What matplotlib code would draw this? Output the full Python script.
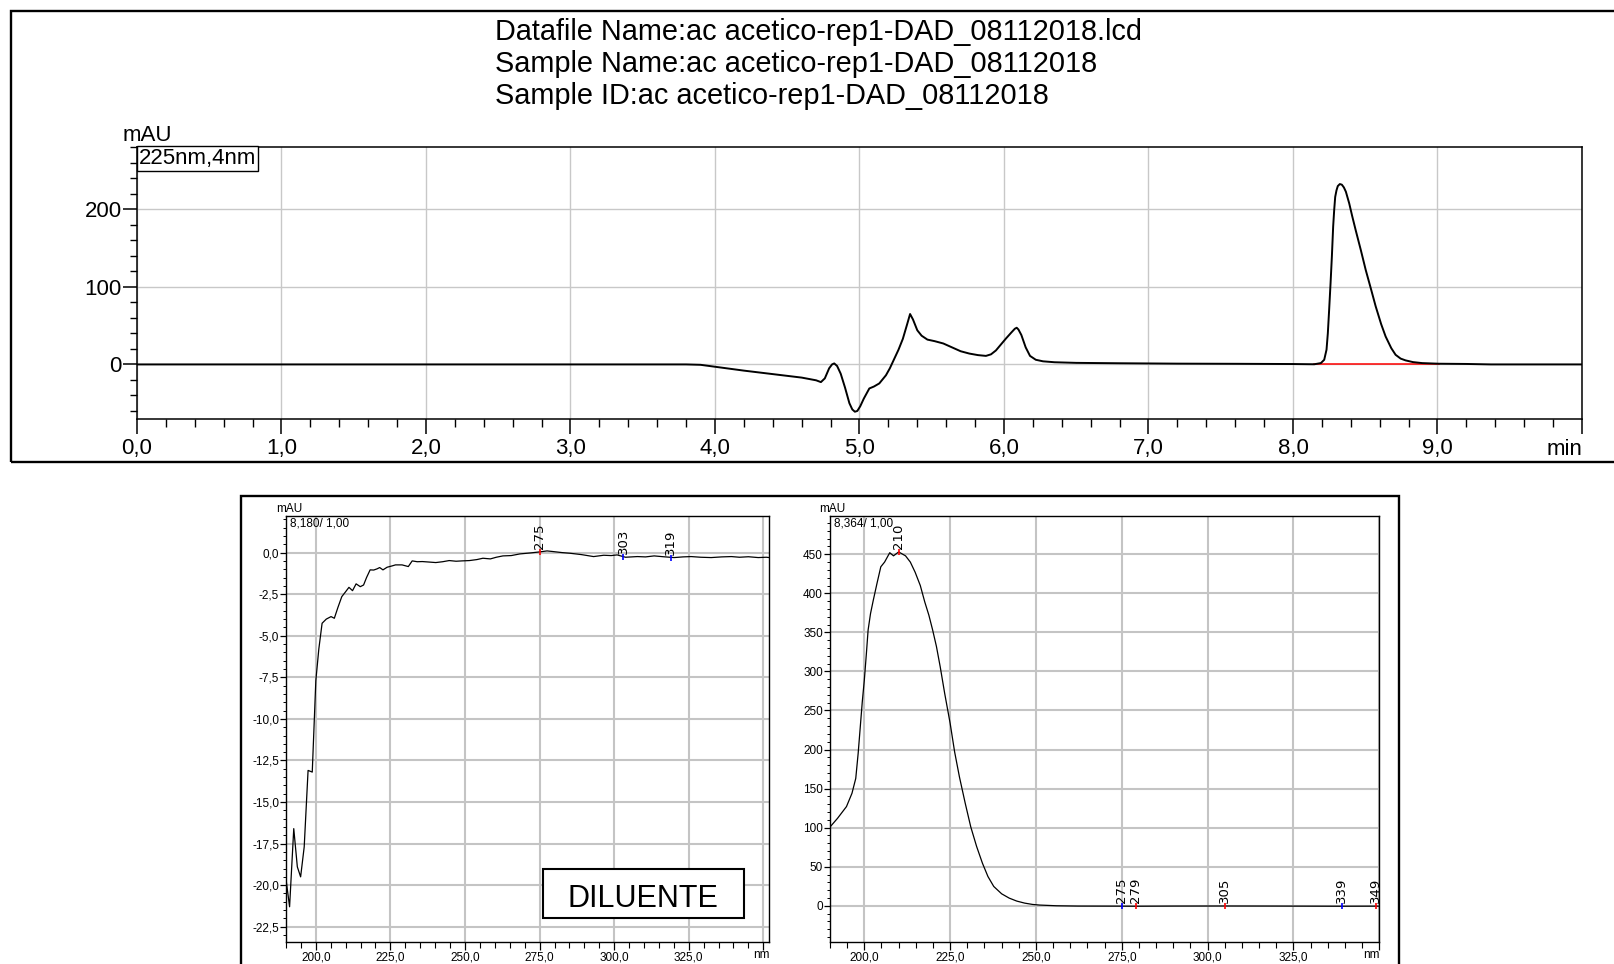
import matplotlib
matplotlib.use("Agg")
import matplotlib.pyplot as plt
from matplotlib.patches import Rectangle
from matplotlib.ticker import MultipleLocator, FuncFormatter

plt.rcParams['font.family'] = ['Liberation Sans', 'DejaVu Sans']
NARROW = ['Liberation Sans Narrow', 'Liberation Sans', 'DejaVu Sans']

# ---------------- data ----------------
header_lines = [
    "Datafile Name:ac acetico-rep1-DAD_08112018.lcd",
    "Sample Name:ac acetico-rep1-DAD_08112018",
    "Sample ID:ac acetico-rep1-DAD_08112018",
]
channel_label = "225nm,4nm"

# chromatogram (min, mAU)
time_min = [0.0, 3.0, 3.8, 3.9, 4.0, 4.2, 4.4, 4.6, 4.70, 4.733, 4.76, 4.79,
            4.81, 4.825, 4.845, 4.87, 4.90, 4.93, 4.95, 4.968, 4.985, 5.005,
            5.03, 5.068, 5.10, 5.137, 5.183, 5.21, 5.24, 5.27, 5.30, 5.33,
            5.35, 5.37, 5.40, 5.43, 5.47, 5.52, 5.58, 5.64, 5.70, 5.76, 5.82,
            5.875, 5.91, 5.944, 5.98, 6.014, 6.05, 6.075, 6.088, 6.10, 6.12,
            6.15, 6.18, 6.22, 6.27, 6.35, 6.5, 6.8, 7.2, 7.6, 8.0, 8.147,
            8.193, 8.216, 8.232, 8.241, 8.25, 8.26, 8.269, 8.278, 8.285,
            8.292, 8.301, 8.31, 8.324, 8.338, 8.352, 8.366, 8.389, 8.41,
            8.434, 8.47, 8.503, 8.54, 8.572, 8.61, 8.641, 8.68, 8.71, 8.745,
            8.779, 8.83, 8.894, 9.01, 9.2, 9.37, 10.0]
absorb_mau = [0.0, 0.0, 0.0, -0.5, -3.0, -8.0, -12.5, -17.0, -20.5, -22.8,
              -18.0, -5.0, 0.0, 1.3, -2.0, -12.0, -30.0, -50.0, -58.0, -61.0,
              -60.0, -54.0, -44.0, -31.0, -28.5, -24.5, -14.0, -5.0, 7.0,
              19.0, 33.0, 52.0, 65.0, 58.0, 44.0, 37.0, 32.0, 30.0, 27.0,
              22.0, 17.0, 14.0, 12.0, 11.0, 13.0, 18.0, 26.0, 33.5, 41.0,
              46.0, 47.3, 45.0, 38.0, 22.0, 11.0, 6.0, 4.0, 2.8, 2.0, 1.5,
              1.0, 0.8, 0.5, 0.2, 1.7, 6.0, 19.0, 40.0, 70.0, 105.0, 139.0,
              178.0, 199.0, 216.0, 224.5, 230.0, 232.6, 231.8, 228.3, 222.7,
              207.7, 191.0, 173.0, 147.0, 122.0, 97.0, 75.0, 52.0, 36.0,
              21.0, 12.4, 7.5, 5.2, 3.0, 1.7, 0.9, 0.6, 0.0, 0.0]
baseline_t = [8.147, 9.01]
baseline_y = [0.0, 0.0]

# spectrum of the diluent at 8,180 min
dil_nm = [189.9, 191.2, 192.6, 193.8, 194.9, 196.1, 197.4, 198.8, 200.0,
          201.0, 202.1, 203.5, 205.1, 206.2, 207.4, 208.7, 210.0, 211.1,
          212.3, 213.5, 214.9, 216.0, 217.0, 218.2, 219.4, 220.5, 221.4,
          222.5, 223.9, 225.6, 226.7, 228.9, 231.0, 232.3, 234.0, 235.7,
          238.0, 240.2, 242.5, 244.7, 247.0, 249.0, 251.5, 254.0, 256.0,
          258.5, 260.5, 262.7, 265.5, 268.4, 272.0, 275.0, 277.5, 279.6,
          282.5, 285.2, 289.0, 293.1, 296.5, 299.0, 301.0, 303.8, 307.8,
          310.5, 313.4, 316.5, 320.1, 323.0, 325.8, 329.0, 332.5, 336.0,
          339.3, 342.0, 345.0, 348.3, 351.0, 352.0]
dil_mau = [-19.5, -21.3, -16.6, -18.9, -19.5, -17.7, -13.1, -13.2, -7.7,
           -5.8, -4.25, -4.0, -3.85, -3.95, -3.3, -2.65, -2.35, -2.09, -2.29,
           -1.88, -2.05, -1.95, -1.5, -1.04, -1.05, -0.98, -0.9, -1.04, -0.88,
           -0.8, -0.74, -0.74, -0.84, -0.5, -0.55, -0.54, -0.57, -0.6, -0.55,
           -0.48, -0.52, -0.5, -0.48, -0.42, -0.34, -0.38, -0.28, -0.2, -0.18,
           -0.08, -0.02, 0.04, 0.1, 0.06, 0.0, -0.04, -0.12, -0.24, -0.16,
           -0.18, -0.14, -0.28, -0.24, -0.26, -0.2, -0.25, -0.3, -0.26,
           -0.24, -0.28, -0.3, -0.26, -0.24, -0.28, -0.25, -0.3, -0.28, -0.3]
dil_marks_nm = [275, 303, 319]
dil_marks_mau = [0.04, -0.28, -0.3]
dil_marks_col = ['red', 'blue', 'blue']

# spectrum of the main peak at 8,364 min
pk_nm = [189.7, 192.2, 194.8, 196.4, 197.5, 198.2, 198.9, 199.4, 200.0,
         200.6, 201.1, 201.8, 202.6, 203.7, 204.8, 205.9, 207.4, 208.5,
         210.0, 212.0, 213.4, 214.8, 216.3, 217.6, 218.8, 219.9, 221.0,
         222.1, 223.4, 225.0, 226.3, 227.7, 229.4, 231.0, 232.7, 234.4,
         236.0, 237.7, 240.0, 242.2, 244.4, 246.7, 249.0, 251.1, 256.0,
         262.3, 275.0, 279.0, 290.0, 305.0, 320.0, 339.0, 349.0, 350.0]
pk_mau = [99.3, 112.0, 127.0, 144.0, 163.0, 195.0, 233.5, 261.0, 289.0,
          323.0, 353.0, 374.0, 391.0, 413.0, 434.0, 440.0, 452.0, 448.0,
          453.0, 448.0, 440.0, 427.0, 410.0, 389.0, 372.0, 353.0, 332.0,
          306.0, 272.0, 233.5, 197.0, 165.0, 131.0, 101.0, 76.0, 54.5, 37.5,
          24.7, 15.3, 9.8, 6.0, 3.4, 1.7, 0.9, 0.0, -0.4, -0.5, -0.6, -0.4,
          -0.3, -0.4, -0.6, -0.5, -0.5]
pk_marks_nm = [210, 275, 279, 305, 339, 349]
pk_marks_mau = [453.0, -0.5, -0.6, -0.3, -0.6, -0.5]
pk_marks_col = ['red', 'blue', 'red', 'red', 'blue', 'red']

# ---------------- figure ----------------
W, H = 1615, 964
fig = plt.figure(figsize=(W / 100, H / 100), dpi=100)


def fx(px):
    return px / W


def fy(py):
    return 1 - py / H


def comma(fmt):
    return FuncFormatter(lambda v, p: (fmt % v).replace('.', ','))


grid_kw = dict(color='#c8c8c8', linewidth=1.0)

# outer frames
fig.patches.append(Rectangle((fx(11), fy(462)), fx(1640) - fx(11), fy(11) - fy(462),
                             transform=fig.transFigure, fill=False, lw=1.7,
                             edgecolor='black', clip_on=False))
fig.patches.append(Rectangle((fx(241), fy(990)), fx(1399) - fx(241), fy(496) - fy(990),
                             transform=fig.transFigure, fill=False, lw=1.7,
                             edgecolor='black', clip_on=False))

for i, line in enumerate(header_lines):
    fig.text(fx(495), fy(31.5 + 32 * i), line, fontsize=20.8, ha='left', va='center')

# ---- chromatogram ----
ax = fig.add_axes([fx(137), fy(418.7), fx(1582) - fx(137), fy(147.3) - fy(418.7)])
ax.plot(time_min, absorb_mau, color='black', lw=1.4, zorder=3)
ax.plot(baseline_t, baseline_y, color='red', lw=1.1, zorder=2)
ax.set_xlim(0, 10)
ax.set_ylim(-70, 280)
ax.xaxis.set_major_locator(MultipleLocator(1.0))
ax.xaxis.set_minor_locator(MultipleLocator(0.2))
ax.yaxis.set_major_locator(MultipleLocator(100))
ax.yaxis.set_minor_locator(MultipleLocator(20))
ax.xaxis.set_major_formatter(FuncFormatter(
    lambda v, p: '' if v > 9.5 else ('%.1f' % v).replace('.', ',')))
ax.yaxis.set_major_formatter(FuncFormatter(lambda v, p: '%d' % v))
ax.grid(True, which='major', **grid_kw)
ax.set_axisbelow(True)
for s in ax.spines.values():
    s.set_linewidth(1.1)
ax.tick_params(axis='x', which='major', direction='out', length=11, width=1.1,
               labelsize=16, pad=3)
ax.tick_params(axis='x', which='minor', direction='out', length=6, width=1.0)
ax.tick_params(axis='y', which='major', direction='out', length=10, width=1.1,
               labelsize=16, pad=1)
ax.tick_params(axis='y', which='minor', direction='out', length=5, width=1.0)
ax.text(-0.010, 1.005, 'mAU', transform=ax.transAxes, fontsize=16,
        ha='left', va='bottom')
ax.text(0.0015, 0.997, channel_label, transform=ax.transAxes, fontsize=16,
        ha='left', va='top',
        bbox=dict(boxstyle='square,pad=0.08', fc='white', ec='black', lw=1.0))
ax.text(1.0, -0.075, 'min', transform=ax.transAxes, fontsize=16,
        ha='right', va='top')


# ---- spectra ----
def spectrum_axes(rect, nm, mau, xlim, ylim, ymaj, ymin_, yfmt, stamp,
                  marks_nm, marks_mau, marks_col):
    a = fig.add_axes(rect)
    a.plot(nm, mau, color='black', lw=0.9, zorder=3)
    a.set_xlim(*xlim)
    a.set_ylim(*ylim)
    a.xaxis.set_major_locator(MultipleLocator(25))
    a.xaxis.set_minor_locator(MultipleLocator(5))
    a.yaxis.set_major_locator(MultipleLocator(ymaj))
    a.yaxis.set_minor_locator(MultipleLocator(ymin_))
    a.xaxis.set_major_formatter(FuncFormatter(
        lambda v, p: ('%.1f' % v).replace('.', ',') if v < 340 else ''))
    a.yaxis.set_major_formatter(yfmt)
    a.grid(True, which='major', color='#c4c4c4', linewidth=1.5)
    a.set_axisbelow(True)
    for s in a.spines.values():
        s.set_linewidth(1.0)
    a.tick_params(axis='x', which='major', direction='out', length=6, width=0.9,
                  labelsize=8.5, pad=1)
    a.tick_params(axis='x', which='minor', direction='out', length=4, width=0.8)
    a.tick_params(axis='y', which='major', direction='out', length=4, width=0.9,
                  labelsize=8.5, pad=1)
    a.tick_params(axis='y', which='minor', direction='out', length=2, width=0.7)
    for lab in a.get_xticklabels() + a.get_yticklabels():
        lab.set_family(NARROW)
        lab.set_stretch('condensed')
    a.text(-0.02, 1.003, 'mAU', transform=a.transAxes, fontsize=8.5,
           family=NARROW, ha='left', va='bottom')
    a.text(0.008, 0.997, stamp, transform=a.transAxes, fontsize=8.5,
           family=NARROW, ha='left', va='top')
    a.text(1.0, -0.017, 'nm', transform=a.transAxes, fontsize=8.5,
           family=NARROW, ha='right', va='top')
    for x, y, c in zip(marks_nm, marks_mau, marks_col):
        a.plot([x], [y], marker='|', color=c, markersize=5, mew=1.2, zorder=4)
        a.annotate(str(x), (x, y), xytext=(0, 2), textcoords='offset points',
                   rotation=90, ha='center', va='bottom', fontsize=9.5,
                   family=['DejaVu Sans'])
    return a


ax1 = spectrum_axes([fx(286), fy(941.7), fx(769.3) - fx(286), fy(516) - fy(941.7)],
                    dil_nm, dil_mau, (190, 352), (-23.4, 2.2), 2.5, 0.5,
                    comma('%.1f'), '8,180/ 1,00',
                    dil_marks_nm, dil_marks_mau, dil_marks_col)
ax1.add_patch(Rectangle((0.531, 0.055), 0.948 - 0.531, 0.170 - 0.055,
                        transform=ax1.transAxes, fc='white', ec='black',
                        lw=1.5, zorder=5))
ax1.text(0.7387, 0.101, 'DILUENTE', transform=ax1.transAxes, fontsize=22,
         ha='center', va='center', zorder=6)

ax2 = spectrum_axes([fx(830), fy(941.7), fx(1379.3) - fx(830), fy(516) - fy(941.7)],
                    pk_nm, pk_mau, (190, 350), (-46, 499), 50, 10,
                    FuncFormatter(lambda v, p: '%d' % v), '8,364/ 1,00',
                    pk_marks_nm, pk_marks_mau, pk_marks_col)

fig.savefig('out.png', dpi=100)
